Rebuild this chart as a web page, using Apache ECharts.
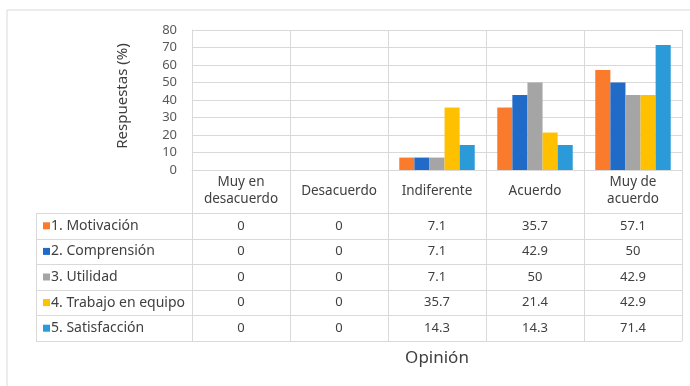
<!DOCTYPE html>
<html><head><meta charset="utf-8">
<script src="https://cdn.jsdelivr.net/npm/echarts@6/dist/echarts.min.js"></script>
<style>html,body{margin:0;padding:0;background:#fff}#c{width:690px;height:386px}</style>
</head><body><div id="c"></div>
<script>
const categories = ['Muy en\ndesacuerdo', 'Desacuerdo', 'Indiferente', 'Acuerdo', 'Muy de\nacuerdo'];
const seriesNames = ['1. Motivación', '2. Comprensión', '3. Utilidad', '4. Trabajo en equipo', '5. Satisfacción'];
const motivacion   = [0, 0, 7.1, 35.7, 57.1];
const comprension  = [0, 0, 7.1, 42.9, 50];
const utilidad     = [0, 0, 7.1, 50, 42.9];
const trabajo      = [0, 0, 35.7, 21.4, 42.9];
const satisfaccion = [0, 0, 14.3, 14.3, 71.4];
const seriesValues = [motivacion, comprension, utilidad, trabajo, satisfaccion];
const colors = ['#F97B2B', '#1F6BC7', '#A5A5A5', '#FFC000', '#2B9AD8'];
const yMin = 0, yMax = 80, yInterval = 10;
const yAxisName = 'Respuestas (%)';
const xAxisName = 'Opinión';

const FONT = 'Noto Sans';
const LINE = '#D9D9D9';
const chart = echarts.init(document.getElementById('c'), null, {renderer: 'canvas'});
chart.setOption({
  animation: false,
  grid: {left: 192, right: 8, top: 30, bottom: 216},
  xAxis: {
    type: 'category', data: categories,
    axisLine: {lineStyle: {color: LINE}}, axisTick: {show: false},
    splitLine: {show: true, lineStyle: {color: LINE}},
    axisLabel: {color: '#404040', fontFamily: FONT, fontSize: 13.5, lineHeight: 17, margin: 21, verticalAlign: 'middle', interval: 0},
    name: xAxisName, nameLocation: 'middle', nameGap: 180,
    nameTextStyle: {color: '#404040', fontFamily: FONT, fontSize: 17}
  },
  yAxis: {
    type: 'value', min: yMin, max: yMax, interval: yInterval,
    axisLine: {show: true, lineStyle: {color: LINE}}, axisTick: {show: false},
    splitLine: {lineStyle: {color: LINE}},
    axisLabel: {color: '#595959', fontFamily: FONT, fontSize: 13, margin: 15},
    name: yAxisName, nameLocation: 'middle', nameGap: 62,
    nameTextStyle: {color: '#404040', fontFamily: FONT, fontSize: 15, padding: [0, 0, 0, 8]}
  },
  series: seriesNames.map((n, i) => ({
    name: n, type: 'bar', data: seriesValues[i], barGap: '0%', barCategoryGap: '23%',
    itemStyle: {color: colors[i]}
  }))
});

// Data table below the axis
const x0 = chart.convertToPixel({xAxisIndex: 0}, categories[0]);
const x1 = chart.convertToPixel({xAxisIndex: 0}, categories[1]);
const band = x1 - x0;
const axisY = chart.convertToPixel({yAxisIndex: 0}, 0);
const headerH = 43, rowH = 25.6, tableLeft = 36;
const firstRowY = axisY + headerH;
const leftEdge = x0 - band / 2;
const rightEdge = chart.convertToPixel({xAxisIndex: 0}, categories[categories.length - 1]) + band / 2;
const g = [];
g.push({type: 'rect', shape: {x: 7, y: 10, width: 720, height: 420}, style: {fill: 'none', stroke: '#D9D9D9', lineWidth: 1}, silent: true});
for (let r = 0; r <= seriesNames.length; r++) {
  const y = Math.round(firstRowY + r * rowH) + 0.5;
  g.push({type: 'line', shape: {x1: tableLeft, y1: y, x2: rightEdge, y2: y}, style: {stroke: LINE, lineWidth: 1}, silent: true});
}
const bottomY = firstRowY + seriesNames.length * rowH;
g.push({type: 'line', shape: {x1: tableLeft + 0.5, y1: firstRowY, x2: tableLeft + 0.5, y2: bottomY}, style: {stroke: LINE, lineWidth: 1}, silent: true});
for (let c = 0; c <= categories.length; c++) {
  const x = Math.round(leftEdge + c * band) + 0.5;
  g.push({type: 'line', shape: {x1: x, y1: axisY, x2: x, y2: bottomY}, style: {stroke: LINE, lineWidth: 1}, silent: true});
}
seriesNames.forEach((n, r) => {
  const cy = firstRowY + r * rowH + rowH / 2;
  g.push({type: 'rect', shape: {x: 43, y: cy - 3.5, width: 7, height: 7}, style: {fill: colors[r]}, silent: true});
  g.push({type: 'text', x: 51, y: cy, style: {text: n, fill: '#404040', font: '14px "' + FONT + '"', verticalAlign: 'middle', align: 'left'}, silent: true});
  seriesValues[r].forEach((v, c) => {
    const cx = chart.convertToPixel({xAxisIndex: 0}, categories[c]);
    g.push({type: 'text', x: cx, y: cy, style: {text: String(v), fill: '#404040', font: '13px "' + FONT + '"', verticalAlign: 'middle', align: 'center'}, silent: true});
  });
});
chart.setOption({graphic: g});
</script></body></html>
